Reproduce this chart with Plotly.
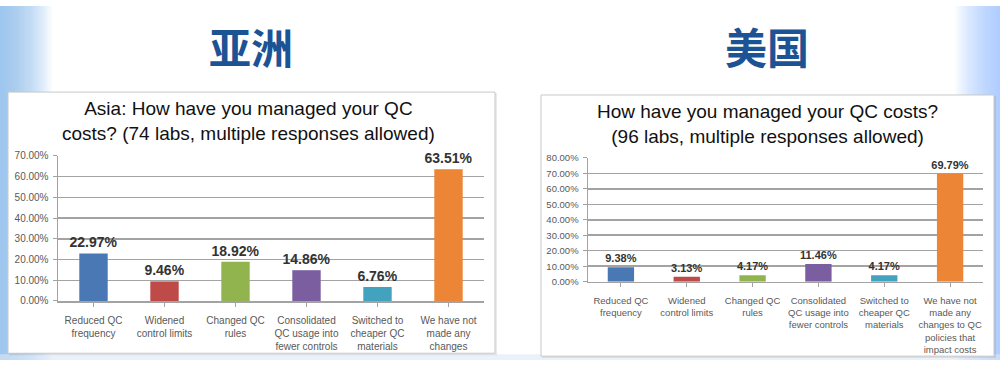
import plotly.graph_objects as go

# ---- data ----
asia_categories = ["Reduced QC<br>frequency", "Widened<br>control limits", "Changed QC<br>rules",
                   "Consolidated<br>QC usage into<br>fewer controls", "Switched to<br>cheaper QC<br>materials",
                   "We have not<br>made any<br>changes"]
asia_values = [0.2297, 0.0946, 0.1892, 0.1486, 0.0676, 0.6351]

us_categories = ["Reduced QC<br>frequency", "Widened<br>control limits", "Changed QC<br>rules",
                 "Consolidated<br>QC usage into<br>fewer controls", "Switched to<br>cheaper QC<br>materials",
                 "We have not<br>made any<br>changes to QC<br>policies that<br>impact costs"]
us_values = [0.0938, 0.0313, 0.0417, 0.1146, 0.0417, 0.6979]

bar_colors = ["#4a78b5", "#be4b48", "#92b44f", "#7b5ea0", "#43a3bf", "#ec8535"]

asia_title = "Asia: How have you managed your QC<br>costs? (74 labs, multiple responses allowed)"
us_title = "How have you managed your QC costs?<br>(96 labs, multiple responses allowed)"
asia_header = "亚洲"
us_header = "美国"

W, H = 1000, 366
def px(x):
    return x / W
def py(y):
    return 1 - y / H

fig = go.Figure()

fig.add_trace(go.Bar(
    x=list(range(len(asia_values))), y=asia_values, marker_color=bar_colors,
    marker_line_width=0,
    text=[f"{v*100:.2f}%" for v in asia_values], textposition="outside",
    constraintext="none",
    textfont=dict(family="Liberation Sans", size=14, color="#333333", weight="bold"),
    cliponaxis=False, xaxis="x", yaxis="y", width=0.4, hoverinfo="skip"))

fig.add_trace(go.Bar(
    x=list(range(len(us_values))), y=us_values, marker_color=bar_colors,
    marker_line_width=0,
    text=[f"{v*100:.2f}%" for v in us_values], textposition="outside",
    constraintext="none",
    textfont=dict(family="Liberation Sans", size=11, color="#333333", weight="bold"),
    cliponaxis=False, xaxis="x2", yaxis="y2", width=0.4, hoverinfo="skip"))

grid = "#a3a3a3"
tickfont_l = dict(family="Liberation Sans", size=10, color="#595959")
tickfont_r = dict(family="Liberation Sans", size=9.5, color="#595959")

fig.update_layout(
    width=W, height=H, margin=dict(l=0, r=0, t=0, b=0),
    paper_bgcolor="white", plot_bgcolor="rgba(0,0,0,0)", showlegend=False,
    xaxis=dict(domain=[px(58), px(484)], anchor="y", tickmode="array",
               tickvals=list(range(6)), ticktext=asia_categories, range=[-0.5, 5.5],
               showline=True, linecolor=grid, linewidth=1.5, ticks="outside",
               tickson="boundaries", ticklen=4, tickcolor=grid, tickfont=tickfont_l,
               ticklabelstandoff=5,
               showgrid=False, zeroline=False, fixedrange=True),
    yaxis=dict(domain=[py(305), py(155)], anchor="x", range=[0, 0.70], dtick=0.10,
               tickformat=".2%", showline=True, linecolor=grid, linewidth=1.5,
               ticks="outside", ticklen=4, tickcolor=grid, showgrid=True,
               gridcolor=grid, gridwidth=1.5, tickfont=tickfont_l, zeroline=False,
               ticklabelstandoff=2, fixedrange=True),
    xaxis2=dict(domain=[px(588), px(983)], anchor="y2", tickmode="array",
                tickvals=list(range(6)), ticktext=us_categories, range=[-0.5, 5.5],
                showline=True, linecolor=grid, linewidth=1.5, ticks="outside",
                tickson="boundaries", ticklen=4, tickcolor=grid, tickfont=tickfont_r,
                ticklabelstandoff=5,
                showgrid=False, zeroline=False, fixedrange=True),
    yaxis2=dict(domain=[py(285), py(157)], anchor="x2", range=[0, 0.80], dtick=0.10,
                tickformat=".2%", showline=True, linecolor=grid, linewidth=1.5,
                ticks="outside", ticklen=4, tickcolor=grid, showgrid=True,
                gridcolor=grid, gridwidth=1.5, tickfont=tickfont_r, zeroline=False,
                ticklabelstandoff=2, fixedrange=True),
)

shapes = []
# left and right light-blue edge gradients (overlapping strips)
n = 24
for i in range(n):
    a = 0.06
    shapes.append(dict(type="rect", xref="paper", yref="paper", layer="below",
                       x0=0, x1=px(52 * (1 - i / n)), y0=0, y1=1,
                       fillcolor=f"rgba(140,195,245,{a})", line_width=0))
    shapes.append(dict(type="rect", xref="paper", yref="paper", layer="below",
                       x0=px(W - 45 * (1 - i / n)), x1=1, y0=0, y1=1,
                       fillcolor=f"rgba(140,195,245,{a*0.8:.3f})", line_width=0))
# bottom strip
shapes.append(dict(type="rect", xref="paper", yref="paper", layer="below",
                   x0=0, x1=1, y0=0, y1=py(360), fillcolor="rgba(220,232,245,0.6)", line_width=0))
# panel boxes (shadow + box)
for (x0, y0, x1, y1) in [(8, 89, 495, 359), (541, 92, 994, 362)]:
    shapes.append(dict(type="rect", xref="paper", yref="paper", layer="below",
                       x0=px(x0 + 1), x1=px(x1 + 2), y0=py(y1 + 2), y1=py(y0 + 1),
                       fillcolor="rgba(0,0,0,0.08)", line_width=0))
    shapes.append(dict(type="rect", xref="paper", yref="paper", layer="below",
                       x0=px(x0), x1=px(x1), y0=py(y1), y1=py(y0),
                       fillcolor="white", line=dict(color="#c8c8c8", width=1)))
fig.update_layout(shapes=shapes)

ann = []
for text, cx in [(asia_header, 251), (us_header, 767)]:
    ann.append(dict(text=text, x=px(cx), y=py(41), xref="paper", yref="paper",
                    xanchor="center", yanchor="middle", showarrow=False,
                    font=dict(family="Noto Sans CJK SC", size=42, color="#1c5394",
                              weight="bold")))
ann.append(dict(text=asia_title, x=px(248), y=py(119), xref="paper", yref="paper",
                xanchor="center", yanchor="middle", showarrow=False,
                font=dict(family="Liberation Sans", size=19, color="#111111")))
ann.append(dict(text=us_title, x=px(767), y=py(122), xref="paper", yref="paper",
                xanchor="center", yanchor="middle", showarrow=False,
                font=dict(family="Liberation Sans", size=19, color="#111111")))
fig.update_layout(annotations=ann)

fig.write_html("out.html", config={"displayModeBar": False, "staticPlot": True},
               post_script="document.body.style.margin='0';document.body.style.overflow='hidden';")
